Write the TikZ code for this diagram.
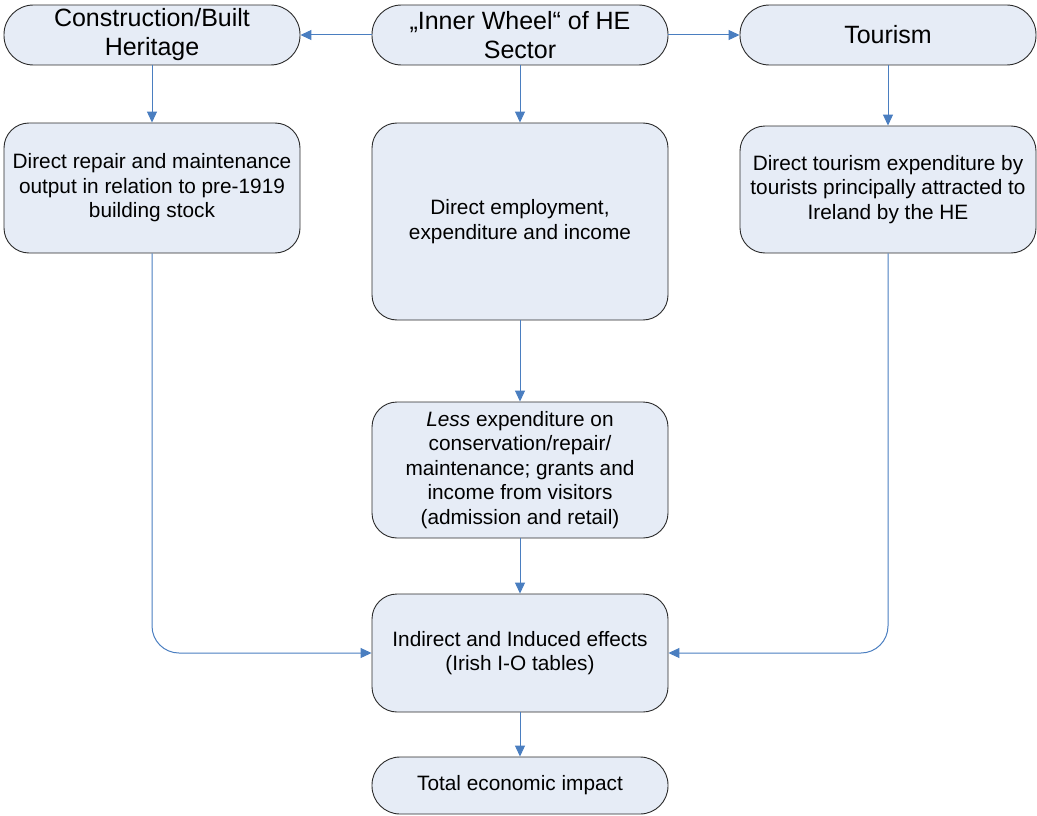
\documentclass[tikz,border=0pt]{standalone}
\usepackage{fontspec}
\setmainfont{Liberation Sans}
\usepackage{tikz}
\usetikzlibrary{arrows.meta}
\usetikzlibrary{positioning}
\definecolor{boxfill}{HTML}{E6ECF6}
\definecolor{flowblue}{HTML}{4A7EC0}
\definecolor{boxline}{HTML}{2A2A2A}
\tikzset{>=latex}
\tikzstyle{pill} = [rectangle, rounded corners=29.5pt, draw=boxline, fill=boxfill, line width=0.9pt, minimum width=296pt, align=center, inner sep=0pt, font=\fontsize{25}{29}\selectfont]
\tikzstyle{blockbox} = [rectangle, rounded corners=25pt, draw=boxline, fill=boxfill, line width=0.9pt, minimum width=296pt, align=center, inner sep=0pt, font=\fontsize{20.8}{24.5}\selectfont]
\tikzstyle{flow} = [-{Triangle[length=11pt,width=10pt]}, draw=flowblue, line width=1pt]

\begin{document}
\begin{tikzpicture}[x=1pt, y=-1pt]
\useasboundingbox (0, 0) rectangle (1037, 816);
\node [pill, minimum height=60pt] (CB) at (152, 35) {Construction/Built\\Heritage};
\node [pill, minimum height=60pt] (IW) at (520, 35) {„Inner Wheel“ of HE\\Sector};
\node [pill, minimum height=60pt] (T) at (888, 35) {Tourism};
\node [blockbox, minimum height=130pt] (DR) at (152, 188) {Direct repair and maintenance\\output in relation to pre-1919\\building stock};
\node [blockbox, minimum height=197pt] (DE) at (520, 221.5) {Direct employment,\\expenditure and income};
\node [blockbox, minimum height=127pt] (DT) at (888, 189.5) {Direct tourism expenditure by\\tourists principally attracted to\\Ireland by the HE};
\node [blockbox, minimum height=136pt] (L) at (520, 470) {\textit{Less} expenditure on\\conservation/repair/\\maintenance; grants and\\income from visitors\\(admission and retail)};
\node [blockbox, minimum height=118pt] (IE) at (520, 653) {Indirect and Induced effects\\(Irish I-O tables)};
\node [blockbox, rounded corners=28pt, minimum height=57pt] (TE) at (520, 785.5) {Total economic impact};
\draw [flow] (IW) to (CB);
\draw [flow] (IW) to (T);
\draw [flow] (CB) to (DR);
\draw [flow] (IW) to (DE);
\draw [flow] (T) to (DT);
\draw [flow] (DE) to (L);
\draw [flow] (L) to (IE);
\draw [flow] (IE) to (TE);
\draw [flow, rounded corners=27pt] (DR.south) |- (IE.west);
\draw [flow, rounded corners=27pt] (DT.south) |- (IE.east);
\end{tikzpicture}
\end{document}
